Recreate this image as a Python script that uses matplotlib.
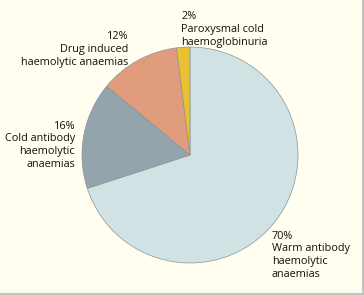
import matplotlib
matplotlib.use("Agg")
import matplotlib.pyplot as plt
from matplotlib.lines import Line2D

labels = ["Warm antibody\nhaemolytic\nanaemias", "Cold antibody\nhaemolytic\nanaemias",
          "Drug induced\nhaemolytic anaemias", "Paroxysmal cold\nhaemoglobinuria"]
values = [70, 16, 12, 2]
colors = ["#d0e2e4", "#94a4ac", "#e09c7c", "#e8c032"]

W, H = 364, 295
fig = plt.figure(figsize=(W / 100, H / 100), dpi=100, facecolor="#fffef0")
ax = fig.add_axes([0, 0, 1, 1])

cx, cy, r = 190, H - 155, 108
ax.pie(values, colors=colors, startangle=90, counterclock=False,
       center=(cx, cy), radius=r, frame=True,
       wedgeprops=dict(edgecolor="#8a9494", linewidth=0.5))
ax.set_xlim(0, W)
ax.set_ylim(0, H)
ax.set_aspect("equal")
ax.axis("off")

fp = dict(family=["Open Sans", "DejaVu Sans"], fontsize=7.8, color="#111111", linespacing=1.22)
# text positions (pixels: x, last-line baseline y), alignment
spec = [
    (272, 277, "left"),
    (75, 167, "right"),
    (128, 65, "right"),
    (181, 45, "left"),
]
for (x, yb, ha), lab, v in zip(spec, labels, values):
    ax.text(x, H - yb, f"{v}%\n{lab}", ha=ha, va="baseline", **fp)

# right and bottom border
fig.add_artist(Line2D([0, W - 1], [1, 1], transform=None, color="#c4c4bc", linewidth=1.5))
fig.add_artist(Line2D([W - 1, W - 1], [1, H], transform=None, color="#c4c4bc", linewidth=1.5))

fig.savefig("out.png", dpi=100, facecolor=fig.get_facecolor())
